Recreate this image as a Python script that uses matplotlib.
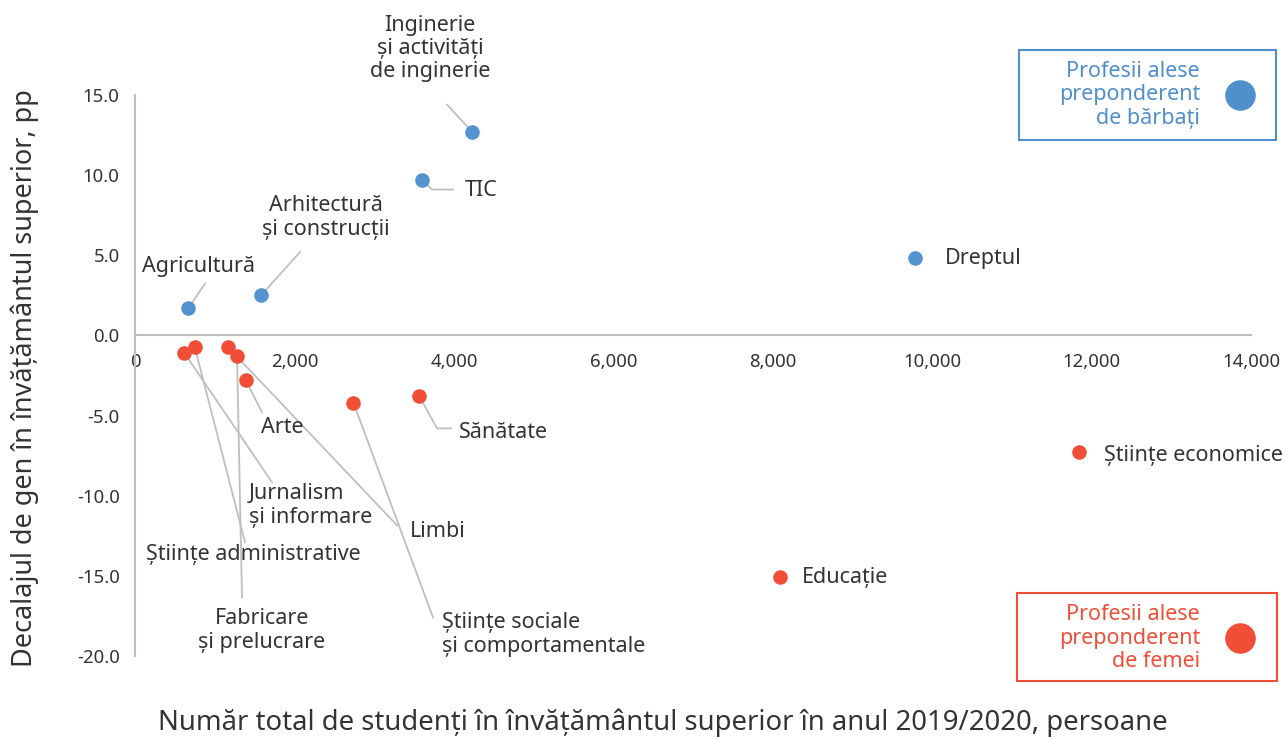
import matplotlib
matplotlib.use('Agg')
import matplotlib.pyplot as plt
from matplotlib.patches import Rectangle
from matplotlib.lines import Line2D

plt.rcParams['font.family'] = ['Noto Sans', 'DejaVu Sans']

# date: barbati (albastru)
men_names = ['Inginerie\nși activități\nde inginerie', 'TIC', 'Dreptul',
             'Arhitectură\nși construcții', 'Agricultură']
men_students = [4230, 3600, 9790, 1580, 670]
men_gap = [12.7, 9.7, 4.8, 2.5, 1.7]

# date: femei (rosu)
women_names = ['Jurnalism\nși informare', 'Științe administrative', 'Limbi',
               'Fabricare\nși prelucrare', 'Arte',
               'Științe sociale\nși comportamentale', 'Sănătate',
               'Științe economice', 'Educație']
women_students = [620, 750, 1170, 1280, 1390, 2740, 3560, 11840, 8090]
women_gap = [-1.1, -0.75, -0.75, -1.3, -2.8, -4.2, -3.75, -7.3, -15.1]

x_ticks = [0, 2000, 4000, 6000, 8000, 10000, 12000, 14000]
y_ticks = [15, 10, 5, 0, -5, -10, -15, -20]

BLUE = '#5393d0'
RED = '#f04e37'
GREY = '#bfbfbf'
TXT = '#333333'
FS = 15.5

# pozitii etichete: (x, y, ha, multialign, puncte intermediare ale liniei)
men_lab = [
    (3700, 17.9, 'center', 'center', [(3914, 14.4)]),
    (4140, 9.05, 'left', 'left', [(3726, 9.1), (3989, 9.1)]),
    (10160, 4.8, 'left', 'left', []),
    (2396, 7.36, 'center', 'center', [(2070, 5.2)]),
    (790, 4.3, 'center', 'center', [(878, 3.24)]),
]
women_lab = [
    (1430, -10.6, 'left', 'left', [(1719, -9.17)]),
    (1480, -13.66, 'center', 'center', [(1380, -12.91)]),
    (3450, -12.23, 'left', 'left', [(3287, -11.85)]),
    (1593, -18.4, 'center', 'center', [(1342, -16.34)]),
    (1844, -5.74, 'center', 'center', [(1593, -4.8)]),
    (3851, -18.65, 'left', 'left', [(3738, -17.59)]),
    (4065, -6.05, 'left', 'left', [(3789, -5.8), (3964, -5.8)]),
    (12156, -7.49, 'left', 'left', []),
    (8367, -15.1, 'left', 'left', []),
]

fig = plt.figure(figsize=(12.86, 7.38), dpi=100)
ax = fig.add_axes([0.1050, 0.1111, 0.8678, 0.7602])

ax.set_xlim(0, 14000)
ax.set_ylim(-20, 15)

for s in ['top', 'right']:
    ax.spines[s].set_visible(False)
ax.spines['bottom'].set_position(('data', 0))
ax.spines['bottom'].set_color(GREY)
ax.spines['left'].set_color(GREY)
ax.spines['bottom'].set_linewidth(1.5)
ax.spines['left'].set_linewidth(1.5)

ax.set_xticks(x_ticks)
ax.set_xticklabels([f'{v:,}' for v in x_ticks])
ax.set_yticks(y_ticks)
ax.set_yticklabels([f'{v:.1f}' for v in y_ticks])
ax.tick_params(axis='x', length=0, pad=12.5, labelsize=13.4, labelcolor=TXT)
ax.tick_params(axis='y', length=0, pad=11, labelsize=13.4, labelcolor=TXT)


def draw_group(xs, ys, names, labs, color):
    for x, y, name, (lx, ly, ha, ma, pts) in zip(xs, ys, names, labs):
        if pts:
            px = [x] + [p[0] for p in pts]
            py = [y] + [p[1] for p in pts]
            ax.plot(px, py, color=GREY, lw=1.3, zorder=2)
        ax.text(lx, ly, name, ha=ha, va='center', multialignment=ma,
                fontsize=FS, color=TXT, linespacing=1.15, zorder=4)
    ax.scatter(xs, ys, s=110, color=color, zorder=3, linewidths=0)


draw_group(men_students, men_gap, men_names, men_lab, BLUE)
draw_group(women_students, women_gap, women_names, women_lab, RED)

# casete legenda
for (x0, y0, w, h, cy, col, txt) in [
        (0.7924, 0.8103, 0.1998, 0.1219, 0.8713, '#4f8fcc',
         'Profesii alese\npreponderent\nde bărbați'),
        (0.7908, 0.0772, 0.2022, 0.1193, 0.1355, RED,
         'Profesii alese\npreponderent\nde femei')]:
    fig.add_artist(Rectangle((x0, y0), w, h, transform=fig.transFigure,
                             fill=False, edgecolor=col, lw=1.5))
    fig.text(0.9331, cy, txt, ha='right', va='center', multialignment='right',
             fontsize=FS, color=col, linespacing=1.15)
    fig.add_artist(Line2D([0.9642], [cy], transform=fig.transFigure,
                          marker='o', markersize=21, color=col, lw=0))

fig.text(0.0195, 0.488, 'Decalajul de gen în învățământul superior, pp',
         rotation=90, ha='center', va='center', fontsize=19.5, color=TXT)
fig.text(0.5156, 0.0203,
         'Număr total de studenți în învățământul superior în anul 2019/2020, persoane',
         ha='center', va='center', fontsize=19.8, color=TXT)

plt.savefig('out.png', dpi=100)
